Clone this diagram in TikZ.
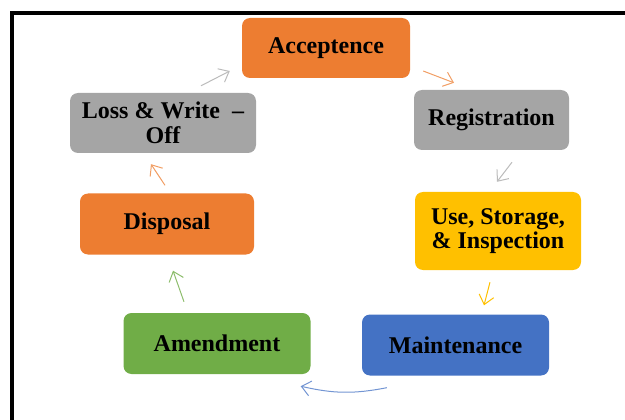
\documentclass[tikz,border=0pt]{standalone}
\usepackage{fontspec}
\setmainfont{Liberation Serif}
\usetikzlibrary{arrows.meta}

\definecolor{orng}{HTML}{ED7D31}
\definecolor{gry}{HTML}{A5A5A5}
\definecolor{gld}{HTML}{FFC000}
\definecolor{blu}{HTML}{4472C4}
\definecolor{grn}{HTML}{70AD47}

\tikzset{
  stage/.style={rounded corners=8pt, inner sep=0pt, align=center,
    minimum height=60pt, font=\bfseries\fontsize{24}{24.5}\selectfont},
  flow/.style={line width=1pt, -{Straight Barb[length=9pt,width=15pt,line width=1pt]}}
}

\begin{document}
\begin{tikzpicture}[x=1pt,y=-1pt]

        \useasboundingbox (0,0) rectangle (625,420);
        \draw[line width=4pt] (12,420) -- (12,13.3) -- (625,13.3);

        \node[stage, fill=orng, minimum width=168pt] (accept) at (326,48) {Acceptence};
        \node[stage, fill=gry, minimum width=155pt] (regist) at (491.5,120) {Registration};
        \node[stage, fill=gld, minimum width=166pt, minimum height=78pt] (usage) at (498,231) {Use, Storage,\\\& Inspection};
        \node[stage, fill=blu, minimum width=187pt, minimum height=61pt] (maint) at (455.5,345) {Maintenance};
        \node[stage, fill=grn, minimum width=187pt, minimum height=61pt] (amend) at (217,343.5) {Amendment};
        \node[stage, fill=orng, minimum width=174pt, minimum height=61pt] (dispo) at (167,224) {Disposal};
        \node[stage, fill=gry, minimum width=186pt] (loss) at (163,123) {Loss \& Write~ --\\Off};

        \draw[flow, gry!75] ([xshift=38pt,yshift=7pt]loss.north) -- ([xshift=-12pt,yshift=-23pt]accept.west);
        \draw[flow, orng!75] ([xshift=13pt,yshift=-23pt]accept.east) -- ([xshift=-37.5pt,yshift=7pt]regist.north);
        \draw[flow, gry!75] ([xshift=20.5pt,yshift=-12pt]regist.south) -- ([xshift=-1pt,yshift=10pt]usage.north);
        \draw[flow, gld] ([xshift=-8pt,yshift=-12pt]usage.south) -- ([xshift=28.5pt,yshift=9pt]maint.north);
        \draw[flow, blu!75] ([xshift=25pt,yshift=-12pt]maint.south west) to[bend left=12] ([xshift=-10pt,yshift=-12pt]amend.south east);
        \draw[flow, grn!80] ([xshift=-33pt,yshift=11pt]amend.north) -- ([xshift=6pt,yshift=-16pt]dispo.south);
        \draw[flow, orng!75] ([xshift=-2pt,yshift=8pt]dispo.north) -- ([xshift=-12pt,yshift=-11pt]loss.south);

    \end{tikzpicture}
\end{document}
